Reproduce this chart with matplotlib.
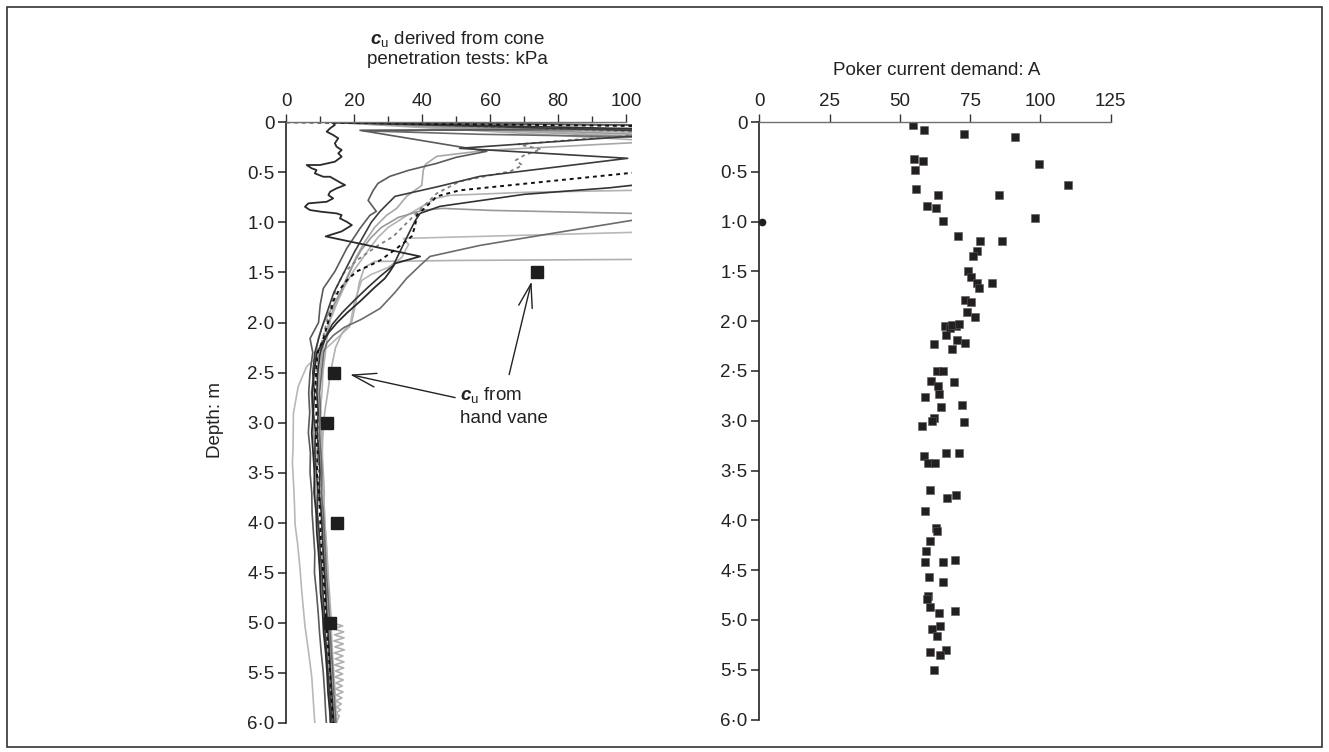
import matplotlib
matplotlib.use('Agg')
import matplotlib.pyplot as plt
from matplotlib.patches import Rectangle

plt.rcParams['font.family'] = ['Liberation Sans', 'DejaVu Sans']
plt.rcParams['mathtext.fontset'] = 'custom'
plt.rcParams['mathtext.rm'] = 'Liberation Sans'
plt.rcParams['mathtext.bf'] = 'Liberation Sans:bold:italic'

# ---- depth axis ticks (both panels)
depth_ticks = [0, 0.5, 1.0, 1.5, 2.0, 2.5, 3.0, 3.5, 4.0, 4.5, 5.0, 5.5, 6.0]
depth_labels = ['0', '0·5', '1·0', '1·5', '2·0', '2·5', '3·0', '3·5', '4·0', '4·5', '5·0', '5·5', '6·0']

# ---- CPT profiles: cu (kPa) vs depth (m); deep parts share deep_d
deep_d = [2.3, 2.5, 2.7, 2.9, 3.1, 3.3, 3.5, 3.7, 3.9, 4.1, 4.3, 4.5, 4.7, 4.9, 5.1, 5.3, 5.5, 5.7, 5.9, 6.0]

A_top_cu = [13.5, 14.3, 12.9, 11.9, 13.8, 15.3, 14.3, 14.8, 16.3, 15.3, 16.3, 14.3, 9.9, 6.0, 7.5, 8.9, 8.4, 10.9,
            12.9, 16.3, 17.3, 14.8, 12.9, 12.4, 13.8, 11.9, 6.5, 5.5, 7.0, 10.4, 14.8, 16.3, 15.8, 17.8, 19.3, 16.3,
            11.6, 39.4, 32.0, 30.5, 29.0, 26.0, 22.0, 18.0, 15.0, 12.5]
A_top_d = [0.0, 0.027, 0.06, 0.094, 0.127, 0.16, 0.21, 0.244, 0.277, 0.31, 0.344, 0.394, 0.427, 0.427, 0.46, 0.477,
           0.51, 0.544, 0.544, 0.61, 0.627, 0.66, 0.694, 0.727, 0.76, 0.794, 0.81, 0.844, 0.877, 0.894, 0.91, 0.927,
           0.96, 0.994, 1.027, 1.09, 1.14, 1.34, 1.41, 1.49, 1.56, 1.65, 1.78, 1.9, 2.0, 2.1]
A_deep = [9.0, 8.2, 7.6, 7.9, 7.5, 7.9, 8.3, 8.2, 8.8, 9.0, 9.5, 9.9, 10.1, 10.7, 11.0, 11.6, 12.0, 12.3, 12.9, 13.0]

B_top_cu = [13.5, 110, 110, 100, 21.7, 59.0, 50.0, 44.3, 36.0, 30.5, 27.0, 25.6, 24.1, 26.5, 24.6, 21.7, 17.8, 14.3,
            10.9, 10.0, 9.5, 7.0]
B_top_d = [0.0, 0.03, 0.06, 0.07, 0.08, 0.29, 0.35, 0.41, 0.48, 0.54, 0.61, 0.68, 0.78, 0.89, 0.93, 1.06, 1.26, 1.49,
           1.66, 1.82, 2.0, 2.16]
B_deep = [7.8, 7.0, 6.6, 6.9, 6.5, 7.1, 7.0, 7.5, 7.6, 8.0, 8.4, 8.3, 8.9, 9.4, 9.8, 10.3, 10.9, 11.3, 11.6, 11.8]

C_top_cu = [13.5, 110, 110, 51.0, 100.5, 57.0, 45.0, 32.0, 27.6, 25.0, 23.0, 20.0, 17.0, 14.0, 12.0, 10.5, 9.2]
C_top_d = [0.0, 0.09, 0.12, 0.26, 0.36, 0.54, 0.64, 0.74, 0.89, 1.0, 1.12, 1.3, 1.5, 1.7, 1.9, 2.05, 2.2]
C_deep = [8.4, 7.8, 8.3, 8.0, 8.6, 8.4, 8.9, 9.3, 9.1, 9.7, 10.0, 10.5, 10.8, 11.2, 11.5, 11.9, 12.3, 12.8, 13.3, 13.5]

Q_top_cu = [13.5, 110, 110, 59.0, 44.3, 41.0, 40.3, 39.9, 35.4, 32.5, 29.5, 26.0, 23.0, 20.5, 18.5, 16.5, 14.5, 12.5, 11.5]
Q_top_d = [0.0, 0.16, 0.19, 0.28, 0.34, 0.42, 0.48, 0.63, 0.74, 0.86, 0.93, 1.05, 1.2, 1.35, 1.5, 1.65, 1.8, 2.0, 2.15]
Q_deep = [10.5, 9.9, 9.4, 9.7, 10.2, 9.8, 10.1, 10.6, 10.4, 11.0, 11.4, 11.2, 11.8, 12.1, 12.6, 12.8, 13.2, 13.6, 13.9, 14.2]

DB_top_cu = [0.0, 14.0, 110, 110, 101.7, 51.0, 44.3, 41.3, 38.4, 37.9, 36.9, 34.4, 30.5, 27.6, 24.6, 20.7, 17.8, 15.3,
             13.8, 12.9, 11.0]
DB_top_d = [0.0, 0.005, 0.04, 0.49, 0.505, 0.68, 0.74, 0.84, 0.93, 1.04, 1.14, 1.21, 1.31, 1.38, 1.43, 1.49, 1.58, 1.69,
            1.79, 1.93, 2.15]
DB_deep = [9.3, 8.8, 8.4, 8.9, 8.7, 9.2, 9.0, 9.6, 9.9, 10.1, 10.4, 10.9, 11.3, 11.6, 12.0, 12.4, 12.9, 13.2, 13.6, 13.9]

DG_top_cu = [13.5, 110, 110, 101.2, 68.3, 75.0, 70.0, 67.5, 69.5, 65.9, 51.1, 44.3, 37.4, 31.5, 26.6, 20.7, 16.8, 14.8,
             13.0, 11.5]
DG_top_d = [0.0, 0.1, 0.12, 0.13, 0.22, 0.27, 0.33, 0.38, 0.43, 0.49, 0.59, 0.71, 0.94, 1.14, 1.24, 1.38, 1.51, 1.65,
            1.85, 2.05]
DG_deep = [9.8, 9.0, 8.6, 9.2, 9.5, 9.1, 9.6, 9.9, 10.2, 10.5, 10.8, 11.1, 11.5, 11.7, 12.2, 12.5, 12.9, 13.1, 13.5, 13.7]

K_top_cu = [13.5, 110, 110, 101.7, 95.0, 70.0, 45.2, 39.4, 38.0, 36.5, 34.9, 31.5, 27.6, 24.0, 20.0, 16.5, 13.5, 11.5]
K_top_d = [0.0, 0.07, 0.61, 0.63, 0.655, 0.72, 0.84, 0.91, 0.98, 1.08, 1.19, 1.43, 1.54, 1.65, 1.78, 1.9, 2.02, 2.15]
K_deep = [10.0, 9.3, 9.0, 9.4, 9.1, 9.6, 9.9, 9.7, 10.3, 10.6, 10.9, 11.3, 11.6, 11.9, 12.3, 12.7, 13.0, 13.4, 13.8, 14.0]

LG1_top_cu = [13.5, 110, 110, 101.7, 70.0, 48.0, 44.0, 41.0, 36.0, 30.0, 27.0, 24.5, 22.0, 19.5, 17.0, 15.0, 13.0, 12.0]
LG1_top_d = [0.0, 0.11, 0.67, 0.68, 0.70, 0.73, 0.76, 0.82, 0.92, 1.05, 1.15, 1.26, 1.38, 1.5, 1.65, 1.8, 1.97, 2.15]
LG1_deep = [11.5, 10.8, 10.5, 10.0, 10.3, 10.6, 10.4, 10.9, 11.3, 11.5, 11.9, 12.2, 12.4, 12.8, 13.3, 13.6, 14.0, 14.4,
            14.7, 14.9]

LG2_top_cu = [13.5, 110, 110, 101.7, 60.0, 46.0, 40.0, 33.0, 28.0, 25.0, 22.0, 20.0, 18.0, 16.0, 13.5, 11.0, 9.5]
LG2_top_d = [0.0, 0.13, 0.90, 0.91, 0.88, 0.86, 0.88, 0.95, 1.05, 1.15, 1.28, 1.4, 1.55, 1.7, 1.85, 2.0, 2.15]
LG2_deep = [8.8, 8.1, 7.4, 7.7, 8.0, 8.5, 8.3, 8.7, 9.2, 9.4, 9.6, 10.1, 10.5, 10.8, 11.4, 11.7, 12.2, 12.6, 12.8, 13.1]

M_top_cu = [13.5, 110, 110, 22.5, 57.0, 110, 110, 101.7, 80.0, 57.0, 42.3, 39.4, 35.4, 32.0, 27.6, 22.0, 17.0, 13.8, 12.0]
M_top_d = [0.0, 0.03, 0.06, 0.085, 0.12, 0.15, 0.97, 0.98, 1.1, 1.23, 1.34, 1.43, 1.56, 1.7, 1.86, 1.97, 2.05, 2.13, 2.2]
M_deep = [11.0, 10.4, 9.8, 10.1, 9.7, 10.2, 10.5, 10.3, 10.9, 11.2, 11.5, 11.8, 12.2, 12.6, 12.9, 13.3, 13.7, 14.0, 14.4, 14.6]

F_cu = [13.5, 110, 110, 101.7, 57.0, 34.5, 36.0, 34.0, 30.0, 25.0, 22.2, 20.0, 18.7, 12.0, 6.0, 3.5, 2.1, 2.0, 1.8,
        2.1, 2.4, 2.6, 3.3, 4.0, 4.6, 5.5, 6.6, 7.5, 8.0, 8.4]
F_d = [0.0, 0.15, 1.09, 1.10, 1.14, 1.16, 1.22, 1.35, 1.45, 1.52, 1.58, 1.8, 2.04, 2.25, 2.44, 2.64, 2.91, 3.25, 3.4,
       3.58, 3.8, 4.02, 4.2, 4.44, 4.7, 5.03, 5.3, 5.54, 5.8, 6.0]

D_cu = [13.5, 110, 110, 101.7, 51.0, 26.0, 23.0, 21.5, 20.7, 19.3, 16.5, 14.5, 13.0, 12.2, 11.3, 10.8, 10.6, 10.9,
        11.2, 11.0, 11.6, 12.0, 12.3, 12.7, 13.1, 13.5,
        16.6, 13.9, 16.9, 14.2, 17.0, 14.0, 16.8, 14.3, 17.1, 14.1, 16.7, 14.4, 17.0, 14.2, 16.9, 14.5, 16.6, 14.3,
        16.8, 14.6, 16.5, 14.4, 16.7, 14.7, 16.4, 14.5, 16.2, 14.8, 16.0, 14.6, 15.6, 14.6]
D_d = [0.0, 0.19, 1.36, 1.37, 1.38, 1.39, 1.45, 1.6, 1.76, 1.99, 2.1, 2.25, 2.5, 2.7, 2.9, 3.1, 3.3, 3.5,
       3.7, 3.9, 4.1, 4.3, 4.5, 4.7, 4.9, 5.0,
       5.03, 5.06, 5.09, 5.12, 5.15, 5.18, 5.21, 5.24, 5.27, 5.30, 5.33, 5.36, 5.39, 5.42, 5.45, 5.48, 5.51, 5.54,
       5.57, 5.60, 5.63, 5.66, 5.69, 5.72, 5.75, 5.78, 5.81, 5.84, 5.87, 5.90, 5.93, 6.0]

# hand vane cu
vane_cu = [73.7, 14.0, 12.1, 15.0, 13.0]
vane_d = [1.5, 2.5, 3.0, 4.0, 5.0]

# ---- poker current demand (A) vs depth (m)
poker_a = [54.6, 58.5, 72.9, 90.8, 54.9, 58.1, 55.4, 99.4, 109.8, 55.9, 63.7, 85.3, 59.5, 62.7, 98.1, 65.2,
           70.7, 78.5, 86.2, 77.3, 75.9, 74.1, 75.2, 77.3, 78.3, 82.7, 73.2, 75.5, 73.8, 76.6,
           66.1, 70.0, 67.8, 68.5, 71.0, 66.6, 70.2, 73.2, 62.3, 68.7, 63.4, 65.5, 61.0, 69.4, 63.6, 63.9, 58.8,
           64.6, 72.2, 62.3, 61.6, 72.9, 58.0, 58.5, 66.6, 70.9, 60.0, 62.6, 60.8, 66.9, 69.9, 58.9, 62.7, 63.2,
           60.6, 59.2, 58.9, 65.3, 69.6, 60.5, 65.3, 60.0, 59.7, 60.6, 63.9, 69.5, 64.3, 61.6, 63.1, 66.4, 60.7,
           64.2, 62.3]
poker_d = [0.03, 0.08, 0.12, 0.15, 0.37, 0.39, 0.48, 0.42, 0.63, 0.67, 0.73, 0.73, 0.84, 0.86, 0.96, 0.99,
           1.14, 1.19, 1.19, 1.29, 1.35, 1.50, 1.56, 1.62, 1.67, 1.62, 1.79, 1.81, 1.91, 1.96,
           2.05, 2.05, 2.07, 2.04, 2.03, 2.14, 2.19, 2.22, 2.23, 2.28, 2.50, 2.50, 2.60, 2.61, 2.65, 2.73, 2.76,
           2.86, 2.84, 2.97, 3.00, 3.01, 3.05, 3.35, 3.32, 3.32, 3.42, 3.42, 3.70, 3.78, 3.75, 3.91, 4.08, 4.11,
           4.21, 4.31, 4.42, 4.42, 4.40, 4.57, 4.62, 4.76, 4.79, 4.87, 4.93, 4.91, 5.06, 5.09, 5.16, 5.30, 5.32,
           5.35, 5.50]
poker_zero_a = [0.8]
poker_zero_d = [1.0]

fs = 13.5

fig = plt.figure(figsize=(13.29, 7.52), dpi=100)
ax1 = fig.add_axes([0.2154, 0.0386, 0.26, 0.7988])
ax2 = fig.add_axes([0.5713, 0.0432, 0.2644, 0.7945])

# profiles, light ones first
profiles = [
    (F_cu, F_d, '#b8b8b8', '-', 1.2),
    (D_cu, D_d, '#b0b0b0', '-', 1.2),
    (LG1_top_cu + LG1_deep, LG1_top_d + deep_d, '#b3b3b3', '-', 1.2),
    (Q_top_cu + Q_deep, Q_top_d + deep_d, '#a8a8a8', '-', 1.2),
    (LG2_top_cu + LG2_deep, LG2_top_d + deep_d, '#999999', '-', 1.2),
    (M_top_cu + M_deep, M_top_d + deep_d, '#6b6b6b', '-', 1.2),
    (B_top_cu + B_deep, B_top_d + deep_d, '#5a5a5a', '-', 1.2),
    (DG_top_cu + DG_deep, DG_top_d + deep_d, '#808080', (0, (2, 2)), 1.3),
    (C_top_cu + C_deep, C_top_d + deep_d, '#3c3c3c', '-', 1.2),
    (K_top_cu + K_deep, K_top_d + deep_d, '#333333', '-', 1.2),
    (A_top_cu + A_deep, A_top_d + deep_d, '#2a2a2a', '-', 1.3),
    (DB_top_cu + DB_deep, DB_top_d + deep_d, '#111111', (0, (2, 2)), 1.4),
]
for cu, d, col, ls, lw in profiles:
    ax1.plot(cu, d, color=col, linestyle=ls, linewidth=lw)

ax1.plot(vane_cu, vane_d, 's', ms=8.4, mfc='#1e1e1e', mec='#1e1e1e', zorder=5)

ax1.annotate('', xy=(18.75, 2.52), xytext=(49.7, 2.75),
             arrowprops=dict(arrowstyle='->,head_length=1.7,head_width=0.5', lw=1.0, color='#222222',
                             shrinkA=0, shrinkB=0))
ax1.annotate('', xy=(72.2, 1.59), xytext=(65.6, 2.52),
             arrowprops=dict(arrowstyle='->,head_length=1.7,head_width=0.5', lw=1.0, color='#222222',
                             shrinkA=0, shrinkB=0))
ax1.text(51.1, 2.84, r'$\mathbf{c}_\mathrm{u}$ from' + '\n' + 'hand vane', fontsize=fs, color='#222222',
         ha='left', va='center', linespacing=1.3)

ax1.set_xlim(0, 101.7)
ax1.set_ylim(6.0, 0)
ax1.xaxis.tick_top()
ax1.set_xticks(range(0, 101, 20))
ax1.set_xticks(range(10, 100, 20), minor=True)
ax1.spines['top'].set_bounds(0, 100)

# poker panel
ax2.plot(poker_a, poker_d, 's', ms=6.2, mfc='#231f20', mec='#5a5a5a', mew=0.4)
ax2.plot(poker_zero_a, poker_zero_d, 'o', ms=4.5, mfc='#231f20', mec='#231f20')
ax2.set_xlim(0, 125)
ax2.set_ylim(6.0, 0)
ax2.xaxis.tick_top()
ax2.set_xticks(range(0, 126, 25))

for ax in (ax1, ax2):
    ax.spines['right'].set_visible(False)
    ax.spines['bottom'].set_visible(False)
    ax.spines['top'].set_color('#707070')
    ax.spines['left'].set_color('#222222')
    ax.spines['top'].set_linewidth(1.0)
    ax.spines['left'].set_linewidth(1.2)
    ax.set_yticks(depth_ticks)
    ax.set_yticklabels(depth_labels)
    ax.tick_params(axis='x', which='major', direction='out', length=6, width=1, colors='#333333',
                   labelsize=fs, labelcolor='#222222', pad=3)
    ax.tick_params(axis='x', which='minor', direction='out', length=4, width=1, colors='#333333')
    ax.tick_params(axis='y', direction='out', length=5.5, width=1.1, colors='#222222', labelsize=fs, pad=3)

fig.text(0.344, 1 - 49 / 752, r'$\mathbf{c}_\mathrm{u}$ derived from cone' + '\n' + 'penetration tests: kPa',
         fontsize=fs, ha='center', va='center', color='#222222', linespacing=1.05)
fig.text(0.7048, 0.9069, 'Poker current demand: A', fontsize=fs, ha='center', va='center', color='#222222')
fig.text(215 / 1329, 1 - 420 / 752, 'Depth: m', rotation=90, fontsize=fs, ha='center', va='center',
         color='#222222')

fig.patches.append(Rectangle((0.0053, 0.0066), 0.9895, 0.984, transform=fig.transFigure, fill=False,
                             edgecolor='#333333', linewidth=1.2))

fig.savefig('out.png', dpi=100)
